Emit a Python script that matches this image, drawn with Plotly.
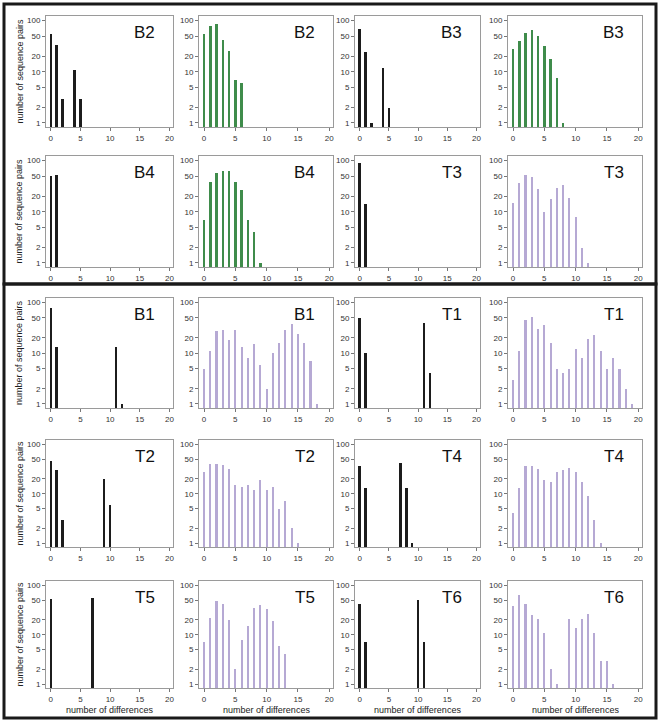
import plotly.graph_objects as go

W, H = 660, 722

# ---------------- data (number of differences -> number of sequence pairs) ----------------
b2_within_x = [0, 1, 2, 4, 5]
b2_within_y = [55, 33, 3, 11, 3]
b2_between_x = [0, 1, 2, 3, 4, 5, 6]
b2_between_y = [55, 78, 85, 42, 26, 7, 6]

b3_within_x = [0, 1, 2, 4, 5]
b3_within_y = [68, 24, 1, 12, 2]
b3_between_x = [0, 1, 2, 3, 4, 5, 6, 7, 8]
b3_between_y = [28, 40, 58, 65, 50, 32, 18, 7.5, 1]

b4_within_x = [0, 1]
b4_within_y = [50, 53]
b4_between_x = [0, 1, 2, 3, 4, 5, 6, 7, 8, 9]
b4_between_y = [7, 38, 58, 62, 62, 38, 27, 7, 4, 1]

t3_within_x = [0, 1]
t3_within_y = [90, 14]
t3_between_x = [0, 1, 2, 3, 4, 5, 6, 7, 8, 9, 10, 11, 12]
t3_between_y = [15, 36, 52, 48, 28, 10, 18, 29, 33, 19, 8, 2, 1]

b1_within_x = [0, 1, 11, 12]
b1_within_y = [78, 13, 13, 1]
b1_between_x = [0, 1, 2, 3, 4, 5, 6, 7, 8, 9, 10, 11, 12, 13, 14, 15, 16, 17, 18]
b1_between_y = [5, 11, 27, 29, 18, 29, 13, 8, 15, 6, 2, 10, 16, 29, 37, 24, 16, 7, 1]

t1_within_x = [0, 1, 11, 12]
t1_within_y = [50, 10, 40, 4]
t1_between_x = [0, 1, 2, 3, 4, 5, 6, 7, 8, 9, 10, 11, 12, 13, 14, 15, 16, 17, 18, 19]
t1_between_y = [3, 11, 45, 52, 30, 36, 16, 5, 4, 5, 12, 8, 19, 23, 11, 5, 8, 5, 2, 1]

t2_within_x = [0, 1, 2, 9, 10]
t2_within_y = [47, 30, 3, 20, 6]
t2_between_x = [0, 1, 2, 3, 4, 5, 6, 7, 8, 9, 10, 11, 12, 13, 14, 15]
t2_between_y = [28, 40, 41, 38, 32, 15, 14, 15, 12, 19, 12, 14, 5, 7, 2, 1]

t4_within_x = [0, 1, 7, 8, 9]
t4_within_y = [36, 13, 42, 13, 1]
t4_between_x = [0, 1, 2, 3, 4, 5, 6, 7, 8, 9, 10, 11, 12, 13, 14]
t4_between_y = [4, 13, 37, 37, 32, 19, 17, 27, 31, 33, 27, 17, 9, 3, 1]

t5_within_x = [0, 7]
t5_within_y = [52, 55]
t5_between_x = [0, 1, 2, 3, 4, 5, 6, 7, 8, 9, 10, 11, 12, 13]
t5_between_y = [7, 22, 48, 43, 20, 2, 8, 15, 35, 40, 33, 19, 6, 4]

t6_within_x = [0, 1, 10, 11]
t6_within_y = [42, 7, 50, 7]
t6_between_x = [0, 1, 2, 3, 4, 5, 6, 7, 9, 10, 11, 12, 13, 14, 15, 16]
t6_between_y = [38, 65, 42, 25, 21, 11, 2, 1, 21, 14, 21, 26, 11, 3, 3, 1]

x_ticks = [0, 5, 10, 15, 20]
y_ticks = [1, 2, 5, 10, 20, 50, 100]
y_tick_labels = ["1", "2", "5", "10", "20", "50", "100"]

BLACK = "#1c1c1c"
GREEN = "#3f8c4b"
PURPLE = "#b6a9d4"
BAR_W = {BLACK: 0.42, GREEN: 0.4, PURPLE: 0.34}

panels = [
    (0, 0, "B2", BLACK, b2_within_x, b2_within_y),
    (0, 1, "B2", GREEN, b2_between_x, b2_between_y),
    (0, 2, "B3", BLACK, b3_within_x, b3_within_y),
    (0, 3, "B3", GREEN, b3_between_x, b3_between_y),
    (1, 0, "B4", BLACK, b4_within_x, b4_within_y),
    (1, 1, "B4", GREEN, b4_between_x, b4_between_y),
    (1, 2, "T3", BLACK, t3_within_x, t3_within_y),
    (1, 3, "T3", PURPLE, t3_between_x, t3_between_y),
    (2, 0, "B1", BLACK, b1_within_x, b1_within_y),
    (2, 1, "B1", PURPLE, b1_between_x, b1_between_y),
    (2, 2, "T1", BLACK, t1_within_x, t1_within_y),
    (2, 3, "T1", PURPLE, t1_between_x, t1_between_y),
    (3, 0, "T2", BLACK, t2_within_x, t2_within_y),
    (3, 1, "T2", PURPLE, t2_between_x, t2_between_y),
    (3, 2, "T4", BLACK, t4_within_x, t4_within_y),
    (3, 3, "T4", PURPLE, t4_between_x, t4_between_y),
    (4, 0, "T5", BLACK, t5_within_x, t5_within_y),
    (4, 1, "T5", PURPLE, t5_between_x, t5_between_y),
    (4, 2, "T6", BLACK, t6_within_x, t6_within_y),
    (4, 3, "T6", PURPLE, t6_between_x, t6_between_y),
]

# pixel layout of plot areas
COLS = [(46, 173), (199, 333), (355, 480), (508, 642)]
ROWS = [(16, 127), (156, 267), (298, 408), (440, 547), (581, 688)]


def px(x):
    return x / W


def py(y):
    return 1 - y / H


fig = go.Figure()
layout = dict(
    width=W, height=H,
    margin=dict(l=0, r=0, t=0, b=0),
    paper_bgcolor="white", plot_bgcolor="white",
    showlegend=False,
    font=dict(family="Liberation Sans, Arial, sans-serif", color="#222"),
    bargap=0,
)
annotations = []
shapes = []

for i, (r, c, label, color, xs, ys) in enumerate(panels):
    n = "" if i == 0 else str(i + 1)
    x0, x1 = COLS[c]
    y0, y1 = ROWS[r]
    fig.add_trace(go.Bar(
        x=xs, y=ys, width=BAR_W[color], marker=dict(color=color, line=dict(width=0)),
        xaxis="x" + n, yaxis="y" + n,
    ))
    axis_common = dict(
        showline=True, linecolor="#9a9a9a", linewidth=1, mirror=True,
        ticks="outside", ticklen=3, tickcolor="#777", tickwidth=1,
        tickfont=dict(size=8, color="#333"), showgrid=False, zeroline=False,
    )
    layout["xaxis" + n] = dict(
        axis_common, domain=[px(x0), px(x1)], anchor="y" + n,
        range=[-0.8, 20.6], tickvals=x_ticks,
    )
    layout["yaxis" + n] = dict(
        axis_common, domain=[py(y1), py(y0)], anchor="x" + n,
        type="log", range=[-0.08, 2.09], tickvals=y_ticks, ticktext=y_tick_labels,
    )
    annotations.append(dict(
        text=label, x=px(x1 - 16), y=py(y0 + 5), xref="paper", yref="paper",
        xanchor="right", yanchor="top", showarrow=False,
        font=dict(size=17, color="#111"),
    ))
    if c == 0:
        annotations.append(dict(
            text="number of sequence pairs", x=px(19), y=py((y0 + y1) / 2),
            xref="paper", yref="paper", textangle=-90, showarrow=False,
            xanchor="center", yanchor="middle", font=dict(size=9, color="#222"),
        ))
    if r == 4:
        annotations.append(dict(
            text="number of differences", x=px((x0 + x1) / 2), y=py(703),
            xref="paper", yref="paper", showarrow=False,
            xanchor="center", yanchor="top", font=dict(size=9, color="#222"),
        ))

# frames around the two groups
frame = dict(type="rect", xref="paper", yref="paper", line=dict(color="#1a1a1a", width=3))
shapes.append(dict(frame, x0=px(4), x1=px(656), y0=py(284), y1=py(4)))
shapes.append(dict(frame, x0=px(4), x1=px(656), y0=py(718), y1=py(284)))

layout["annotations"] = annotations
layout["shapes"] = shapes
fig.update_layout(**layout)
fig.write_html(
    "out.html",
    config={"displayModeBar": False},
    post_script="document.body.style.margin='0';document.body.style.padding='0';",
)
